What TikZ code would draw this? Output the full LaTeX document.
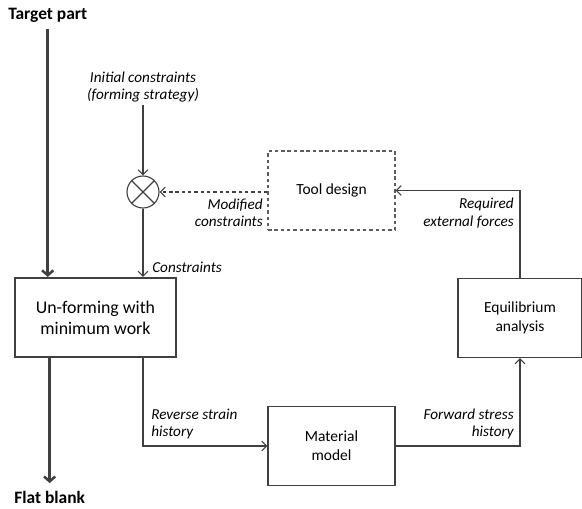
\documentclass[tikz,border=0pt]{standalone}
\usepackage{fontspec}
\setmainfont{Carlito}
\usetikzlibrary{arrows.meta}
\definecolor{lline}{HTML}{404040}

\tikzset{
  block/.style={draw=lline, line width=0.8pt, align=center, inner sep=0pt,
    minimum width=3.175cm, minimum height=1.975cm, font=\fontsize{11}{13.5}\selectfont},
  mainblock/.style={block, line width=1.5pt, minimum width=4.025cm,
    font=\fontsize{12.7}{15}\selectfont},
  tag/.style={font=\fontsize{10.8}{12.3}\selectfont\itshape, inner sep=0pt},
  title/.style={font=\fontsize{12.4}{14}\selectfont\bfseries, inner sep=0pt},
  flow/.style={draw=lline, line width=0.8pt, -{Straight Barb[length=3.5pt,width=7pt]}},
  bigflow/.style={draw=lline, line width=1.8pt, -{Straight Barb[length=3.5pt,width=8pt]}},
  dashline/.style={dash pattern=on 2.5pt off 2pt}
}

\begin{document}
\begin{tikzpicture}[x=0.025cm, y=-0.025cm]
\useasboundingbox (0,0) rectangle (582,508);

% boxes
\node[mainblock] (unform) at (95.5,317.5) {Un-forming with\\minimum work};
\node[block, dashline, draw=lline!85] (tool) at (331.5,190.5) {Tool design};
\node[block] (material) at (331.5,446) {Material\\model};
\node[block, minimum width=3.1cm] (equil) at (520,318) {Equilibrium\\analysis};
\node[draw=lline, line width=0.8pt, circle, minimum size=0.8cm, inner sep=0pt] (mix) at (143,192) {};
\draw[lline, line width=0.8pt] (mix.north west) -- (mix.south east)
  (mix.north east) -- (mix.south west);

% texts
\node[title, anchor=west] (target) at (8,15) {Target part};
\node[title, anchor=west] (flat) at (14,497) {Flat blank};
\node[tag, align=center] (init) at (143,87) {Initial constraints\\(forming strategy)};
\node[tag, anchor=west] (cons) at (152,267) {Constraints};
\node[tag, anchor=east, align=right] (modif) at (263,213) {Modified\\constraints};
\node[tag, anchor=east, align=right] (force) at (514,213) {Required\\external forces};
\node[tag, anchor=west, align=left] (strain) at (151,424) {Reverse strain\\history};
\node[tag, anchor=east, align=right] (stress) at (514,424) {Forward stress\\history};

% connectors
\draw[bigflow] (target.south) ++(0,7) -- (target.south |- unform.north);
\draw[bigflow] (unform.south -| flat.north) -- ++(0,125);
\draw[flow] (init.south) ++(0,2) -- (mix.north);
\draw[flow] (mix.south) -- (mix.south |- unform.north);
\draw[flow, dashline] (tool.west |- mix.east) -- (mix.east);
\draw[flow] (mix.south |- unform.south) |- (material.west);
\draw[flow] (material.east) -| (equil.south);
\draw[flow] (equil.north) |- (tool.east);
\end{tikzpicture}
\end{document}
